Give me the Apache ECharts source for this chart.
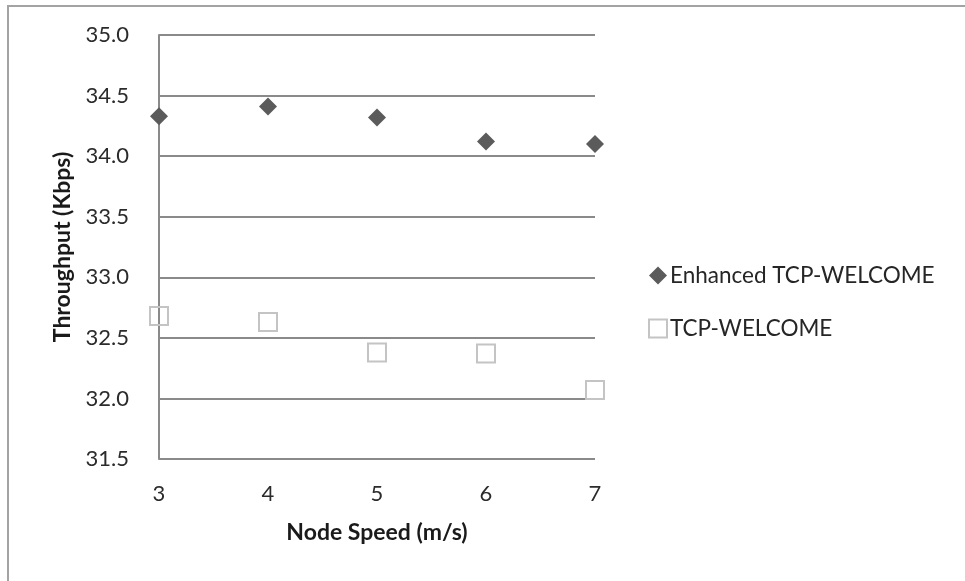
<!DOCTYPE html>
<html>
<head>
<meta charset="utf-8">
<script src="https://cdn.jsdelivr.net/npm/echarts@6/dist/echarts.min.js"></script>
<style>
  html, body { margin: 0; padding: 0; background: #ffffff; }
  #chart { width: 965px; height: 581px; }
</style>
</head>
<body>
<div id="chart"></div>
<script>
// Node speeds (m/s) on the x axis
const speeds = [3, 4, 5, 6, 7];
// Throughput (Kbps) per speed
const enhancedWelcome = [34.33, 34.41, 34.32, 34.12, 34.10];
const tcpWelcome = [32.68, 32.63, 32.38, 32.37, 32.07];
const seriesNames = ['Enhanced TCP-WELCOME', 'TCP-WELCOME'];

const FONT = 'Lato';
const toPairs = vals => speeds.map((s, i) => [s, vals[i]]);

const chart = echarts.init(document.getElementById('chart'), null, { renderer: 'canvas' });
chart.setOption({
  backgroundColor: '#ffffff',
  animation: false,
  textStyle: { fontFamily: FONT },
  graphic: [{
    type: 'rect',
    shape: { x: 8, y: 6, width: 1200, height: 1000 },
    style: { fill: 'none', stroke: '#a3a3a3', lineWidth: 2 },
    silent: true
  }],
  grid: { left: 159, right: 370, top: 35, bottom: 122 },
  legend: {
    orient: 'vertical',
    left: 643,
    top: 259,
    itemWidth: 18,
    itemHeight: 18,
    itemGap: 30,
    textStyle: { fontFamily: FONT, fontSize: 22.5, color: '#262626', padding: [0, 0, 0, -2] },
    data: [
      { name: seriesNames[0], icon: 'diamond', itemStyle: { color: '#5b5b5b' } },
      { name: seriesNames[1], icon: 'rect', itemStyle: { color: '#ffffff', borderColor: '#c4c4c4', borderWidth: 2 } }
    ]
  },
  xAxis: {
    type: 'value',
    min: 3,
    max: 7,
    interval: 1,
    name: 'Node Speed (m/s)',
    nameLocation: 'middle',
    nameGap: 62,
    nameTextStyle: { fontFamily: FONT, fontSize: 23, fontWeight: 'bold', color: '#1a1a1a' },
    axisLine: { show: false },
    axisTick: { show: false },
    splitLine: { show: false },
    axisLabel: { margin: 24, fontFamily: FONT, fontSize: 22, color: '#2b2b2b' }
  },
  yAxis: {
    type: 'value',
    min: 31.5,
    max: 35,
    interval: 0.5,
    name: 'Throughput (Kbps)',
    nameLocation: 'middle',
    nameRotate: 90,
    nameGap: 85,
    nameTextStyle: { fontFamily: FONT, fontSize: 23, fontWeight: 'bold', color: '#1a1a1a' },
    axisLine: { show: true, lineStyle: { color: '#8a8a8a', width: 2 } },
    axisTick: { show: false },
    splitLine: { show: true, lineStyle: { color: '#8a8a8a', width: 2 } },
    axisLabel: {
      margin: 30,
      fontFamily: FONT,
      fontSize: 22,
      color: '#2b2b2b',
      formatter: v => v.toFixed(1)
    }
  },
  series: [
    {
      name: seriesNames[0],
      type: 'scatter',
      symbol: 'diamond',
      symbolSize: 18,
      itemStyle: { color: '#5b5b5b', opacity: 1 },
      data: toPairs(enhancedWelcome),
      z: 3
    },
    {
      name: seriesNames[1],
      type: 'scatter',
      symbol: 'rect',
      symbolSize: 18,
      itemStyle: { color: 'rgba(255,255,255,0)', borderColor: '#c4c4c4', borderWidth: 2, opacity: 1 },
      data: toPairs(tcpWelcome),
      z: 3
    }
  ]
});
</script>
</body>
</html>
